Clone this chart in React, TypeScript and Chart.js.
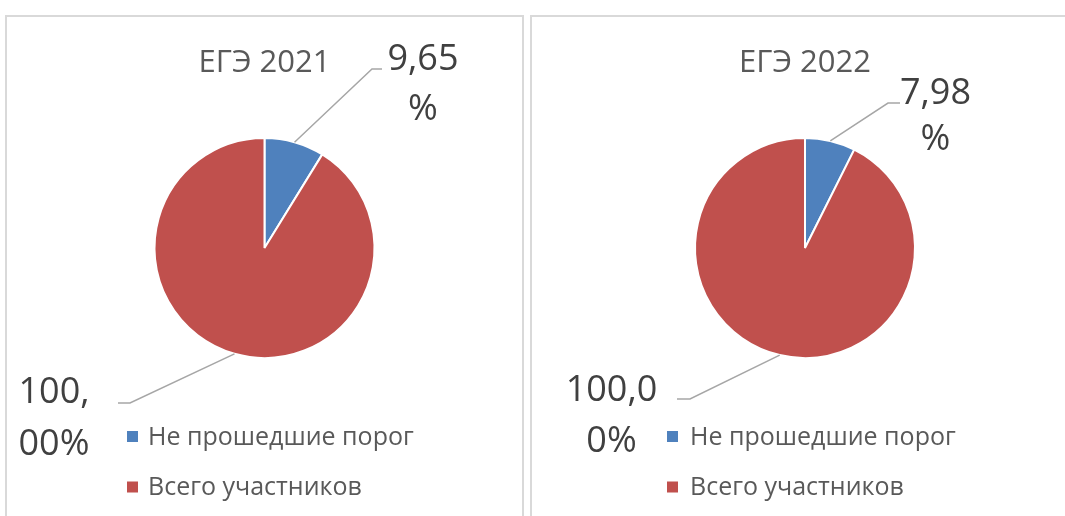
import React, { useEffect, useRef } from "react";
import { Chart, registerables } from "chart.js";

Chart.register(...registerables);

// ---- data ----
const categories = ["Не прошедшие порог", "Всего участников"];
const titles = ["ЕГЭ 2021", "ЕГЭ 2022"];
const values2021 = [9.65, 100];
const values2022 = [7.98, 100];
const colors = ["#4F81BD", "#C0504D"];
// where Excel wrapped each data label (character index)
const labelBreaks2021 = [4, 4];
const labelBreaks2022 = [4, 5];

const FONT = "'Open Sans', 'Noto Sans', sans-serif";

type LabelCfg = { elbow: [number, number]; end: number; tx: number; ty: [number, number] };
type Cfg = {
  left: number; top: number; width: number; height: number;
  cx: number; cy: number; r: number;
  titleDy: number;
  labels: LabelCfg[];
  legendX: number; legendTextX: number; legendY: number[];
};

const layout2021: Cfg = {
  left: 7, top: 17, width: 515, height: 499,
  cx: 257.5, cy: 231, r: 110,
  titleDy: -176,
  labels: [
    { elbow: [107.5, -179], end: 117.5, tx: 158.5, ty: [-178, -128] },
    { elbow: [-134.5, 155], end: -146.5, tx: -210.5, ty: [155, 207] },
  ],
  legendX: -137.5, legendTextX: -116.5, legendY: [188.5, 239],
};

const layout2022: Cfg = {
  left: 532, top: 17, width: 533, height: 499,
  cx: 273, cy: 231, r: 110,
  titleDy: -176,
  labels: [
    { elbow: [83, -145], end: 95, tx: 130.5, ty: [-144, -98] },
    { elbow: [-115, 151], end: -128, tx: -193.5, ty: [153, 204] },
  ],
  legendX: -138, legendTextX: -115, legendY: [188.5, 239],
};

function PieChart(props: { title: string; values: number[]; breaks: number[]; cfg: Cfg }) {
  const ref = useRef<HTMLCanvasElement | null>(null);
  const { title, values, breaks, cfg } = props;

  useEffect(() => {
    if (!ref.current) return;
    const overlay = {
      id: "overlay",
      afterDraw(chart: any) {
        const ctx = chart.ctx as CanvasRenderingContext2D;
        const meta = chart.getDatasetMeta(0);
        const a0: any = meta.data[0];
        const cx = a0.x, cy = a0.y, R = a0.outerRadius;
        ctx.save();
        // title
        ctx.fillStyle = "#595959";
        ctx.font = `31px ${FONT}`;
        ctx.textAlign = "center";
        ctx.textBaseline = "alphabetic";
        ctx.fillText(title, cx, cy + cfg.titleDy);
        // data labels with leader lines
        meta.data.forEach((arc: any, i: number) => {
          const mid = (arc.startAngle + arc.endAngle) / 2;
          const sx = cx + Math.cos(mid) * R;
          const sy = cy + Math.sin(mid) * R;
          const L = cfg.labels[i];
          ctx.strokeStyle = "#A6A6A6";
          ctx.lineWidth = 1.5;
          ctx.beginPath();
          ctx.moveTo(sx, sy);
          ctx.lineTo(cx + L.elbow[0], cy + L.elbow[1]);
          ctx.lineTo(cx + L.end, cy + L.elbow[1]);
          ctx.stroke();
          const txt = values[i].toFixed(2).replace(".", ",") + "%";
          const lines = [txt.slice(0, breaks[i]), txt.slice(breaks[i])];
          ctx.fillStyle = "#404040";
          ctx.font = `36px ${FONT}`;
          ctx.textAlign = "center";
          ctx.textBaseline = "alphabetic";
          lines.forEach((ln, k) => ctx.fillText(ln, cx + L.tx, cy + L.ty[k]));
        });
        // legend
        ctx.font = `25px ${FONT}`;
        ctx.textAlign = "left";
        ctx.textBaseline = "middle";
        categories.forEach((c, i) => {
          const y = cy + cfg.legendY[i];
          ctx.fillStyle = colors[i];
          ctx.fillRect(cx + cfg.legendX, y - 5.5, 11, 11);
          ctx.fillStyle = "#595959";
          ctx.fillText(c, cx + cfg.legendTextX, y + 1);
        });
        ctx.restore();
      },
    };

    const size = cfg.r + 1;
    const chart = new Chart(ref.current, {
      type: "pie",
      data: {
        labels: categories,
        datasets: [
          {
            data: values,
            backgroundColor: colors,
            borderColor: "#FFFFFF",
            borderWidth: 2,
          },
        ],
      },
      options: {
        animation: false,
        responsive: false,
        maintainAspectRatio: false,
        devicePixelRatio: 1,
        layout: {
          padding: {
            left: cfg.cx - size,
            right: cfg.width - (cfg.cx + size),
            top: cfg.cy - size,
            bottom: cfg.height - (cfg.cy + size),
          },
        },
        plugins: {
          legend: { display: false },
          title: { display: false },
          tooltip: { enabled: false },
        },
      },
      plugins: [overlay],
    });
    return () => chart.destroy();
  }, [title, values, breaks, cfg]);

  return (
    <canvas
      ref={ref}
      width={cfg.width}
      height={cfg.height}
      style={{ position: "absolute", left: cfg.left, top: cfg.top, width: cfg.width, height: cfg.height }}
    />
  );
}

export default function App() {
  return (
    <div
      style={{
        position: "absolute",
        left: 0,
        top: 0,
        width: 1065,
        height: 516,
        overflow: "hidden",
        background: "#FFFFFF",
      }}
    >
      <div
        style={{
          position: "absolute",
          left: 5,
          top: 15,
          width: 519,
          height: 540,
          boxSizing: "border-box",
          border: "2px solid #D9D9D9",
        }}
      />
      <div
        style={{
          position: "absolute",
          left: 530,
          top: 15,
          width: 560,
          height: 540,
          boxSizing: "border-box",
          border: "2px solid #D9D9D9",
        }}
      />
      <PieChart title={titles[0]} values={values2021} breaks={labelBreaks2021} cfg={layout2021} />
      <PieChart title={titles[1]} values={values2022} breaks={labelBreaks2022} cfg={layout2022} />
    </div>
  );
}
